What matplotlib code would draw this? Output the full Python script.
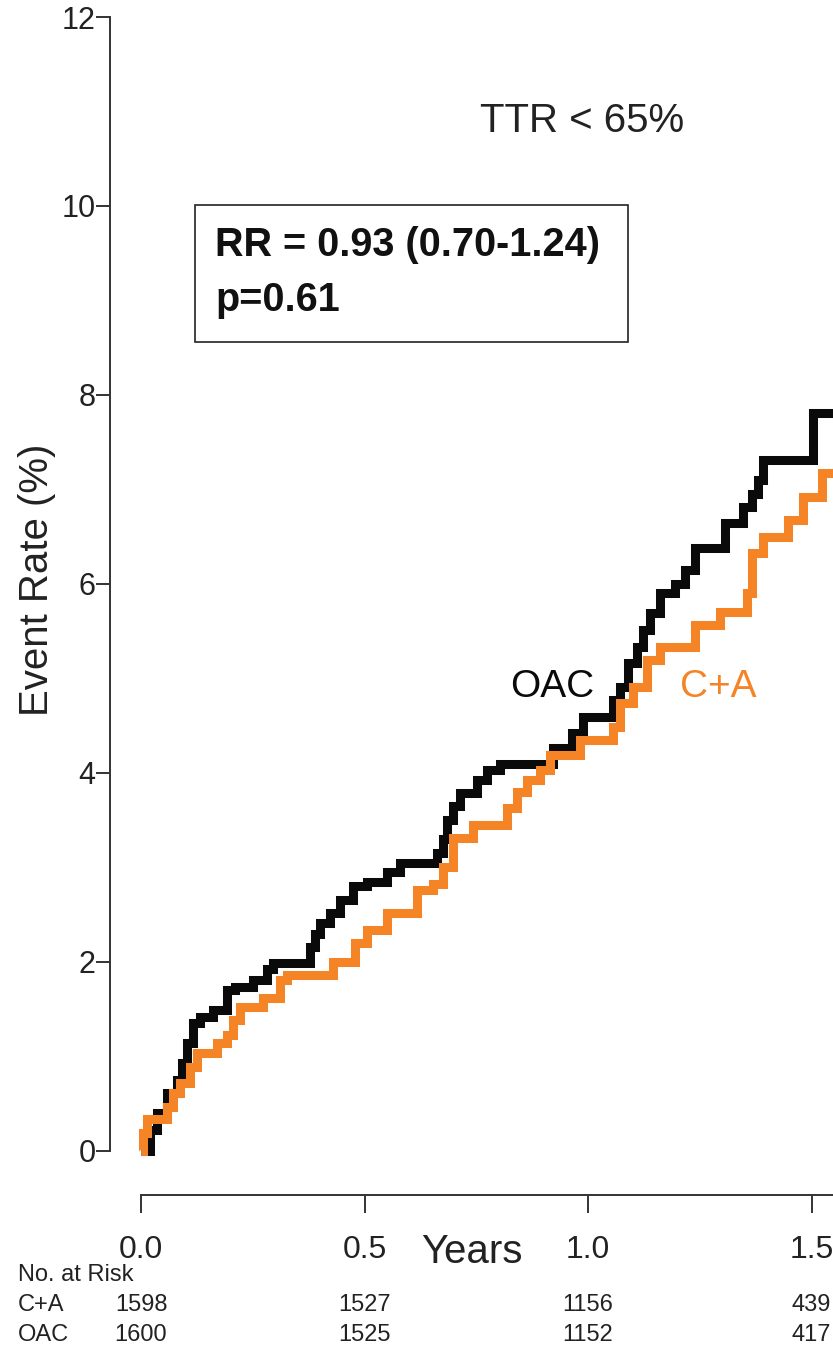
import matplotlib
matplotlib.use("Agg")
import matplotlib.pyplot as plt
from matplotlib.patches import Rectangle

plt.rcParams['font.family'] = ['Liberation Sans', 'DejaVu Sans']

# Kaplan-Meier style cumulative event rates (years, %)
oac_years = [0.0, 0.020, 0.036, 0.058, 0.081, 0.092, 0.103, 0.116, 0.132, 0.161,
             0.192, 0.210, 0.251, 0.282, 0.295, 0.378, 0.389, 0.400, 0.423, 0.445,
             0.474, 0.506, 0.550, 0.579, 0.662, 0.676, 0.685, 0.698, 0.714, 0.752,
             0.774, 0.803, 0.922, 0.964, 0.989, 1.056, 1.072, 1.089, 1.110, 1.123,
             1.139, 1.161, 1.195, 1.217, 1.239, 1.306, 1.347, 1.367, 1.380, 1.391,
             1.503, 1.56]
oac_rate = [0.0, 0.22, 0.40, 0.61, 0.75, 0.93, 1.14, 1.35, 1.42, 1.49,
            1.70, 1.74, 1.81, 1.93, 1.99, 2.16, 2.30, 2.41, 2.52, 2.66,
            2.80, 2.85, 2.95, 3.05, 3.15, 3.30, 3.50, 3.65, 3.79, 3.93,
            4.03, 4.10, 4.26, 4.42, 4.59, 4.77, 4.91, 5.16, 5.33, 5.51,
            5.69, 5.90, 6.00, 6.15, 6.38, 6.65, 6.81, 6.95, 7.10, 7.31,
            7.81, 7.81]

ca_years = [0.0, 0.004, 0.013, 0.058, 0.072, 0.087, 0.110, 0.125, 0.170, 0.192,
            0.206, 0.221, 0.273, 0.311, 0.327, 0.430, 0.479, 0.506, 0.550, 0.617,
            0.653, 0.676, 0.698, 0.743, 0.819, 0.841, 0.864, 0.893, 0.915, 0.982,
            1.056, 1.072, 1.101, 1.132, 1.161, 1.239, 1.295, 1.356, 1.367, 1.391,
            1.447, 1.481, 1.523, 1.56]
ca_rate = [0.0, 0.19, 0.34, 0.47, 0.61, 0.72, 0.89, 1.04, 1.14, 1.23,
           1.39, 1.52, 1.62, 1.81, 1.86, 2.00, 2.20, 2.34, 2.52, 2.76,
           2.83, 3.00, 3.31, 3.45, 3.63, 3.80, 3.93, 4.03, 4.19, 4.35,
           4.49, 4.74, 4.91, 5.20, 5.33, 5.57, 5.70, 5.90, 6.33, 6.50,
           6.68, 6.92, 7.17, 7.17]

x_ticks = [0.0, 0.5, 1.0, 1.5]
y_ticks = [0, 2, 4, 6, 8, 10, 12]
risk_groups = ["C+A", "OAC"]
risk_ca = [1598, 1527, 1156, 439]
risk_oac = [1600, 1525, 1152, 417]

OAC_COLOR = '#0a0a0a'
CA_COLOR = '#f58426'

W, H = 833, 1347
fig = plt.figure(figsize=(W / 100, H / 100), dpi=100)
ax = fig.add_axes([110 / W, 1 - 1195 / H, (W - 110) / W, (1195 - 17) / H])

ax.plot(oac_years, oac_rate, drawstyle='steps-post', color=OAC_COLOR, lw=6.5,
        solid_joinstyle='miter', solid_capstyle='butt')
ax.plot(ca_years, ca_rate, drawstyle='steps-post', color=CA_COLOR, lw=6.5,
        solid_joinstyle='miter', solid_capstyle='butt')

ax.set_xlim(-0.0694, 1.548)
ax.set_ylim(-0.466, 12)

for side in ('top', 'right'):
    ax.spines[side].set_visible(False)
ax.spines['left'].set_bounds(0, 12)
ax.spines['bottom'].set_bounds(0, 1.548)
for side in ('left', 'bottom'):
    ax.spines[side].set_color('#333333')
    ax.spines[side].set_linewidth(1.4)

ax.set_yticks(y_ticks)
ax.set_yticklabels([str(v) for v in y_ticks])
ax.set_xticks(x_ticks)
ax.set_xticklabels([f"{v:.1f}" for v in x_ticks])
ax.tick_params(axis='y', length=10, width=1.4, color='#333333', pad=0.5,
               labelsize=22, labelcolor='#222222')
ax.tick_params(axis='x', length=13, width=1.4, color='#333333', pad=16,
               labelsize=23, labelcolor='#222222')

fig.text(37 / W, 1 - 580 / H, "Event Rate (%)", rotation=90, ha='center',
         va='center', fontsize=29, color='#222222')
fig.text(472 / W, 1 - 1252 / H, "Years", ha='center', va='center',
         fontsize=29, color='#222222')

ax.text(0.987, 10.9, "TTR < 65%", ha='center', va='center', fontsize=29,
        color='#222222')

ax.add_patch(Rectangle((0.121, 8.56), 1.089 - 0.121, 10.01 - 8.56, fill=False,
                       edgecolor='#222222', lw=1.2))
ax.text(0.166, 9.59, "RR = 0.93 (0.70-1.24)", ha='left', va='center',
        fontsize=28.5, fontweight='bold', color='#111111')
ax.text(0.166, 9.0, "p=0.61", ha='left', va='center',
        fontsize=28.5, fontweight='bold', color='#111111')

ax.text(0.826, 4.91, "OAC", ha='left', va='center', fontsize=28, color=OAC_COLOR)
ax.text(1.206, 4.91, "C+A", ha='left', va='center', fontsize=28, color=CA_COLOR)

# number at risk table
fig.text(18 / W, 1 - 1275 / H, "No. at Risk", ha='left', va='center',
         fontsize=17, color='#222222')
import matplotlib.transforms as mtransforms
trans = mtransforms.blended_transform_factory(ax.transData, fig.transFigure)
for label, counts, py in zip(risk_groups, [risk_ca, risk_oac], [1305, 1335]):
    fig.text(18 / W, 1 - py / H, label, ha='left', va='center', fontsize=17,
             color='#222222')
    for xv, n in zip(x_ticks, counts):
        ax.text(xv, 1 - py / H, str(n), transform=trans, ha='center',
                va='center', fontsize=17, color='#222222', clip_on=False)

fig.savefig("out.png", dpi=100)
